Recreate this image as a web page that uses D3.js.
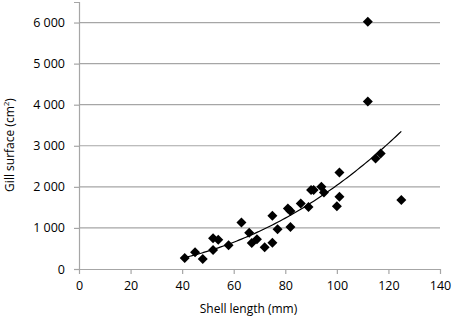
<!DOCTYPE html>
<html>
<head>
<meta charset="utf-8">
<script src="https://cdn.jsdelivr.net/npm/d3@7"></script>
<style>
  body { margin: 0; background: #fff; }
  text { font-family: "Open Sans", sans-serif; fill: #000; }
</style>
</head>
<body>
<div id="chart"></div>
<script>
var width = 454, height = 318
var margin = {top: 2, right: 14, bottom: 49, left: 79}

// shell length (mm) and gill surface (cm2)
var shellLength = [41, 45, 48, 52, 52, 54, 58, 63, 66, 67, 69, 72, 75, 75, 77, 81, 82, 82,
                   86, 89, 90, 91, 94, 95, 100, 101, 101, 112, 112, 115, 117, 125]
var gillSurface = [270, 410, 245, 460, 750, 715, 580, 1135, 880, 630, 725, 530, 640, 1295, 968, 1470, 1410, 1020,
                   1597, 1510, 1925, 1925, 2005, 1862, 1525, 2350, 1757, 6020, 4080, 2690, 2810, 1680]
var xTicks = [0, 20, 40, 60, 80, 100, 120, 140]
var yTicks = [0, 1000, 2000, 3000, 4000, 5000, 6000]

var data = shellLength.map(function(d, i) { return {x: d, y: gillSurface[i]} })

var svg = d3.select("#chart")
  .append("svg")
    .attr("width", width)
    .attr("height", height)

var x = d3.scaleLinear()
  .domain([0, 140])
  .range([margin.left, width - margin.right])

var y = d3.scaleLinear()
  .domain([0, 6500])
  .range([height - margin.bottom, margin.top])

var fmt = function(d) { return d3.format(",")(d).replace(",", " ") }

// gridlines
svg.append("g")
  .selectAll("line")
  .data(yTicks.slice(1))
  .enter()
  .append("line")
    .attr("x1", x(0))
    .attr("x2", x(140))
    .attr("y1", function(d) { return y(d) })
    .attr("y2", function(d) { return y(d) })
    .attr("stroke", "#a6a6a6")
    .attr("stroke-width", 1.2)

var yAxis = svg.append("g")
  .attr("transform", `translate(${x(0)},0)`)
  .call(d3.axisLeft(y).tickValues(yTicks).tickSize(5).tickPadding(9).tickFormat(fmt))
yAxis.select(".domain").attr("stroke", "#a6a6a6").attr("stroke-width", 1.2)
yAxis.selectAll(".tick line").attr("stroke", "#a6a6a6").attr("stroke-width", 1.2)
yAxis.selectAll("text").style("font-size", "12.5px").style("fill", "#000")

var xAxis = svg.append("g")
  .attr("transform", `translate(0,${y(0)})`)
  .call(d3.axisBottom(x).tickValues(xTicks).tickSize(5).tickSizeOuter(0).tickPadding(7))
xAxis.select(".domain").attr("stroke", "#a6a6a6").attr("stroke-width", 1.2)
xAxis.selectAll(".tick line").attr("stroke", "#a6a6a6").attr("stroke-width", 1.2)
xAxis.selectAll("text").style("font-size", "12.5px").style("fill", "#000")

// power trendline (least squares in log-log space, as Excel does)
var lx = data.map(function(d) { return Math.log(d.x) })
var ly = data.map(function(d) { return Math.log(d.y) })
var mx = d3.mean(lx), my = d3.mean(ly)
var b = d3.sum(lx, function(v, i) { return (v - mx) * (ly[i] - my) }) / d3.sum(lx, function(v) { return (v - mx) * (v - mx) })
var a = Math.exp(my - b * mx)
console.log(a, b)

var xs = d3.range(d3.min(shellLength), d3.max(shellLength) + 0.5, 1)
svg.append("path")
  .datum(xs)
  .attr("fill", "none")
  .attr("stroke", "#000")
  .attr("stroke-width", 1.2)
  .attr("d", d3.line()
    .x(function(d) { return x(d) })
    .y(function(d) { return y(a * Math.pow(d, b)) })
    .curve(d3.curveMonotoneX))

svg.append("g")
  .selectAll("path")
  .data(data)
  .enter()
  .append("path")
    .attr("d", d3.symbol().type(d3.symbolSquare).size(50))
    .attr("transform", function(d) { return `translate(${x(d.x)},${y(d.y)}) rotate(45)` })
    .attr("fill", "#000")

svg.append("text")
  .attr("x", (x(0) + x(140)) / 2 - 11)
  .attr("y", 313)
  .attr("text-anchor", "middle")
  .style("font-size", "12px")
  .text("Shell length (mm)")

var yTitle = svg.append("text")
  .attr("transform", "translate(14,145) rotate(-90)")
  .attr("text-anchor", "middle")
  .style("font-size", "12px")
yTitle.append("tspan").text("Gill surface (cm")
yTitle.append("tspan").attr("dy", -5).style("font-size", "8px").text("2")
yTitle.append("tspan").attr("dy", 5).text(")")
</script>
</body>
</html>
